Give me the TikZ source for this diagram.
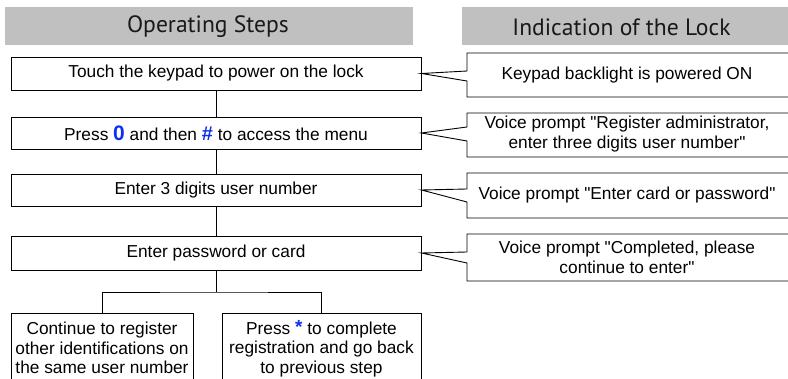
\documentclass[tikz,border=0pt]{standalone}
\usepackage{fontspec}
\setmainfont{Liberation Sans}[Ligatures=TeXOff]
\newfontfamily\hdfont{PT Sans}
\newcommand\qq{\symbol{34}}
\definecolor{hdgray}{HTML}{C0C0C0}
\definecolor{kblue}{HTML}{1030F0}
\begin{document}
\begin{tikzpicture}[x=1pt,y=-1pt,
  header/.style={fill=hdgray, draw=none, minimum height=38pt, inner sep=0pt},
  hdtext/.style={inner sep=0pt, font=\hdfont\fontsize{23.6}{26}\selectfont, text=black!90},
  stepbox/.style={draw, line width=0.9pt, inner sep=0pt, align=center,
    font=\fontsize{17.3}{19.5}\selectfont},
  callouttext/.style={inner sep=0pt, align=center, font=\fontsize{17.3}{20}\selectfont},
  callout/.style={draw, line width=0.9pt, line join=miter},
  link/.style={draw, line width=0.9pt}
]
\useasboundingbox (0,0) rectangle (788,379);

% headers
\node[header, minimum width=408pt] (h1) at (209,26) {};
\node[hdtext] (h1t) at (208,27) {Operating Steps};
\node[header, minimum width=330pt] (h2) at (627,26) {};
\node[hdtext] (h2t) at (621.5,27) {Indication of the Lock};

% operating steps
\node[stepbox, minimum width=410pt, minimum height=33pt] (b1) at (216,73.5) {Touch the keypad to power on the lock};
\node[stepbox, minimum width=410pt, minimum height=32pt] (b2) at (216,133)
  {Press {\color{kblue}\bfseries\fontsize{21}{19.5}\selectfont 0} and then {\color{kblue}\bfseries\fontsize{20}{19.5}\selectfont \#} to access the menu};
\node[stepbox, minimum width=410pt, minimum height=32pt] (b3) at (216,190) {Enter 3 digits user number};
\node[stepbox, minimum width=410pt, minimum height=34pt] (b4) at (216,253) {Enter password or card};
\node[stepbox, minimum width=182pt, minimum height=70pt] (bl) at (102,348)
  {Continue to register\\other identifications on\\the same user number};
\node[stepbox, minimum width=199pt, minimum height=70pt] (br) at (321.5,348.5)
  {Press {\color{kblue}\bfseries\fontsize{19}{19.5}\selectfont\raisebox{1pt}{*}} to complete\\registration and go back\\to previous step};

% connectors
\draw[link] (b1.south) -- (b2.north);
\draw[link] (b2.south) -- (b3.north);
\draw[link] (b3.south) -- (b4.north);
\coordinate (fk) at (216,292);
\draw[link] (b4.south) -- (fk);
\draw[link] (bl.north) |- (fk) -| (br.north);

% indications
\node[callouttext] (c1) at (627,75) {Keypad backlight is powered ON};
\node[callouttext] (c2) at (627,134.5) {Voice prompt \qq Register administrator,\\enter three digits user number\qq};
\node[callouttext] (c3) at (627,195.5) {Voice prompt \qq Enter card or password\qq};
\node[callouttext] (c4) at (627,257.5) {Voice prompt \qq Completed, please\\continue to enter\qq};

\draw[callout] (795,53) -- (467,53) -- (467,71) -- (b1.east) -- (467,81) -- (467,97) -- (795,97);
\draw[callout] (795,113) -- (467,113) -- (467,127) -- (b2.east) -- (467,141) -- (467,157) -- (795,157);
\draw[callout] (795,173) -- (467,173) -- (467,189) -- (b3.east) -- (467,202) -- (467,218) -- (795,218);
\draw[callout] (795,234) -- (467,234) -- (467,252) -- (b4.east) -- (467,263) -- (467,281) -- (795,281);
\end{tikzpicture}
\end{document}
